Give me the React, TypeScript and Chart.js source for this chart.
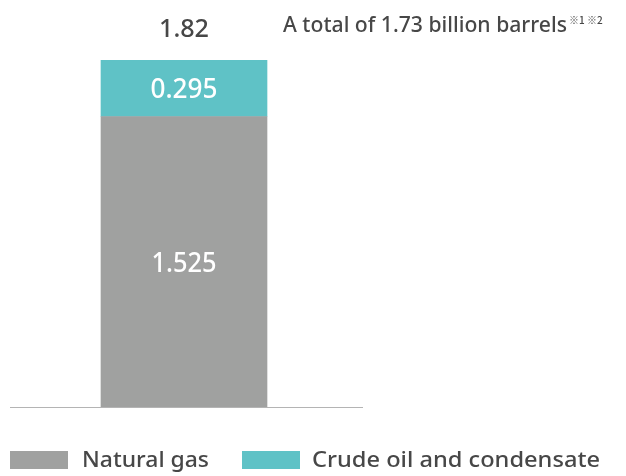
import React, { useEffect, useRef } from "react";
import { Chart, registerables } from "chart.js";

Chart.register(...registerables);

// Reserves (billion barrels)
const categories = [""];
const seriesNames = ["Natural gas", "Crude oil and condensate"];
const naturalGas = [1.525];
const crudeOil = [0.295];
const totals = [1.82];
const noteText = "A total of 1.73 billion barrels";
const noteMarks = "※1 ※2";

const GRAY = "#a0a1a0";
const TEAL = "#5fc2c6";
const TEXT = "#474747";
const FONT = '"Open Sans", "Noto Sans", sans-serif';
const LABEL_FONT = '"Noto Sans", "Open Sans", sans-serif';

// Draw text scaled horizontally to a target width
function fitText(
  ctx: CanvasRenderingContext2D,
  text: string,
  x: number,
  y: number,
  font: string,
  width: number,
  color: string,
  align: "left" | "center" = "left"
) {
  ctx.save();
  ctx.font = font;
  ctx.fillStyle = color;
  ctx.textBaseline = "alphabetic";
  const w = ctx.measureText(text).width;
  const sx = width / w;
  const left = align === "center" ? x - (w * sx) / 2 : x;
  ctx.translate(left, y);
  ctx.scale(sx, 1);
  ctx.textAlign = "left";
  ctx.fillText(text, 0, 0);
  ctx.restore();
}

const decorations = {
  id: "decorations",
  beforeDatasetsDraw(chart: any) {
    const { ctx, chartArea, scales } = chart;
    const y0 = scales.y.getPixelForValue(0);
    ctx.save();
    ctx.strokeStyle = "#b4b4b4";
    ctx.lineWidth = 1.2;
    ctx.beginPath();
    ctx.moveTo(chartArea.left, y0 + 0.5);
    ctx.lineTo(chartArea.right + 5, y0 + 0.5);
    ctx.stroke();
    ctx.restore();
  },
  afterDatasetsDraw(chart: any) {
    const { ctx, scales } = chart;
    const yS = scales.y;
    const xS = scales.x;
    categories.forEach((_, i) => {
      const cx = xS.getPixelForValue(i);
      const gasMid = yS.getPixelForValue(naturalGas[i] / 2);
      const oilMid = yS.getPixelForValue(naturalGas[i] + crudeOil[i] / 2);
      fitText(ctx, naturalGas[i].toFixed(3), cx, gasMid + 10, `500 27px ${LABEL_FONT}`, 65, "#ffffff", "center");
      fitText(ctx, crudeOil[i].toFixed(3), cx, oilMid + 10, `500 27px ${LABEL_FONT}`, 67, "#ffffff", "center");
      const top = yS.getPixelForValue(totals[i]);
      fitText(ctx, totals[i].toFixed(2), cx, top - 23, `500 26px ${LABEL_FONT}`, 50, TEXT, "center");
    });

    // Note at top right
    fitText(ctx, noteText, 283, 32, `500 22px ${LABEL_FONT}`, 284, TEXT);
    ctx.save();
    ctx.font = `500 10px "Noto Sans CJK JP", ${FONT}`;
    ctx.fillStyle = TEXT;
    ctx.textBaseline = "alphabetic";
    ctx.fillText(noteMarks, 569, 24);
    ctx.restore();

    // Legend
    const items = [
      { label: seriesNames[0], color: GRAY, box: 10, text: 82, w: 127 },
      { label: seriesNames[1], color: TEAL, box: 242, text: 312, w: 288 },
    ];
    items.forEach((it) => {
      ctx.fillStyle = it.color;
      ctx.fillRect(it.box, 451, 58, 18);
      fitText(ctx, it.label, it.text, 467, `500 22px ${LABEL_FONT}`, it.w, TEXT);
    });
  },
};

export default function App() {
  const ref = useRef<HTMLCanvasElement>(null);
  useEffect(() => {
    if (!ref.current) return;
    const chart = new Chart(ref.current, {
      type: "bar",
      data: {
        labels: categories,
        datasets: [
          { label: seriesNames[0], data: naturalGas, backgroundColor: GRAY, barThickness: 166 },
          { label: seriesNames[1], data: crudeOil, backgroundColor: TEAL, barThickness: 166 },
        ],
      },
      options: {
        animation: false,
        responsive: false,
        maintainAspectRatio: false,
        layout: { padding: { left: 10, right: 268, top: 26, bottom: 69 } },
        plugins: { legend: { display: false }, tooltip: { enabled: false } },
        scales: {
          x: { stacked: true, display: false },
          y: { stacked: true, display: false, min: 0, max: 2.0 },
        },
      },
      plugins: [decorations],
    });
    return () => chart.destroy();
  }, []);
  return (
    <div style={{ position: "fixed", left: 0, top: 0, width: 626, height: 476, background: "#ffffff" }}>
      <canvas ref={ref} width={626} height={476} style={{ width: 626, height: 476 }} />
    </div>
  );
}
